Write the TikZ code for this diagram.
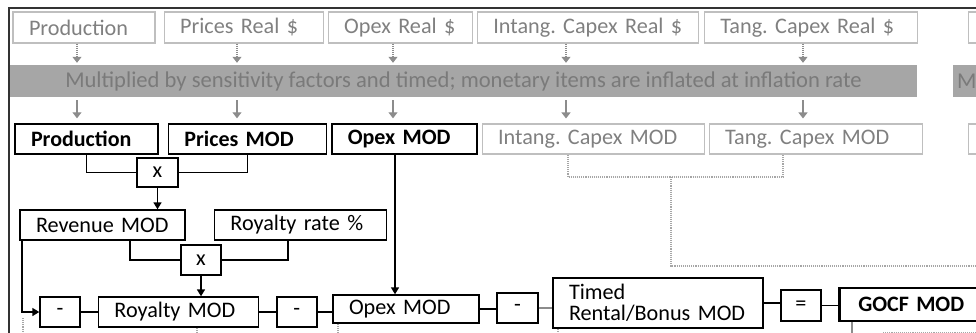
\documentclass[tikz,border=0pt]{standalone}
\usepackage{fontspec}
\setmainfont{Carlito}
\usetikzlibrary{arrows.meta,positioning}
\frenchspacing

\begin{document}
\begin{tikzpicture}
    [x=1pt,y=-1pt,font=\fontsize{22.2}{18}\selectfont,
    real/.style={rectangle,draw=black!25,text=black!50,line width=1.1pt,
    inner xsep=16pt,inner ysep=0pt,minimum height=31pt,text width=#1,align=left},
    module/.style={rectangle,draw=black,line width=1.4pt,font=\fontsize{22}{18}\selectfont\bfseries,
    inner xsep=16pt,inner ysep=0pt,minimum height=30pt,text width=#1,align=left},
    faded/.style={real=#1,minimum height=30pt},
    calc box/.style={rectangle,draw=black,line width=1.4pt,
    inner xsep=16pt,inner ysep=0pt,minimum height=30pt,text width=#1,align=left},
    op/.style={rectangle,draw=black,line width=1.4pt,inner sep=0pt,
    minimum width=40pt,minimum height=30pt},
    band/.style={rectangle,fill=black!35,text=black!52,inner sep=0pt,minimum height=32pt,
    font=\fontsize{22.6}{18}\selectfont},
    link/.style={draw=black,line width=1.6pt},
    arr/.style={link,-{Triangle[length=7pt,width=8pt]}},
    gray arr/.style={draw=black!45,line width=1.1pt,-{Triangle[length=6pt,width=9pt]}},
    gray dots/.style={gray arr,densely dotted},
    dot line/.style={draw=black!35,line width=1.1pt,densely dotted}]
    \path[use as bounding box,clip] (0,0) rectangle (976,332);
    \draw[black!80,line width=1.2pt] (9,340) -- (9,8) -- (990,8);
    % real inputs
    \node[real=110pt] (realprod) at (84,27.5) {Production};
    \node[real=127pt] (realprice) [right=8pt of realprod] {Prices Real \$};
    \node[real=112pt] (realopex) [right=4pt of realprice] {Opex Real \$};
    \node[real=189pt] (realintang) [right=4pt of realopex] {Intang. Capex Real \$};
    \node[real=181pt] (realtang) [right=5pt of realintang] {Tang. Capex Real \$};
    \node[real=168pt] (realnext) [right=50pt of realtang] {};
    % sensitivity band
    \node[band,minimum width=907pt] (band) at (463.5,81) {Multiplied by sensitivity factors and timed; monetary items are inflated at inflation rate};
    \node[band,minimum width=200pt,anchor=west,inner xsep=4pt,text width=192pt,align=left] (bandnext) at (953,81) {M};
    % modelled items
    \node[module=111pt] (modprod) at (86.5,139) {Production};
    \node[module=126pt] (modprice) [right=9pt of modprod] {Prices MOD};
    \node[module=113pt] (modopex) [right=4pt of modprice] {Opex MOD};
    \node[faded=190pt] (modintang) [right=4pt of modopex] {Intang. Capex MOD};
    \node[faded=181pt] (modtang) [right=4pt of modintang] {Tang. Capex MOD};
    \node[faded=168pt] (modnext) [right=45pt of modtang] {};
    \foreach \x/\r/\m in {77/realprod/modprod,237/realprice/modprice,393/realopex/modopex,
        566/realintang/modintang,803/realtang/modtang} {
        \draw[gray dots,shorten >=2pt] (\r.south -| \x,0) -- (band.north -| \x,0);
        \draw[gray arr,shorten <=3pt,shorten >=5pt] (band.south -| \x,0) -- (\m.north -| \x,0);
    }
    % revenue and royalty
    \node[op,minimum width=41pt,minimum height=29pt] (times1) at (157.5,172.5) {x};
    \node[calc box=133pt] (revenue) at (102.5,225) {Revenue MOD};
    \node[calc box=140pt] (royrate) [right=28pt of revenue] {Royalty rate \%};
    \node[op] (times2) at (201,260) {x};
    \draw[link] (modprod.south) |- (times1.west);
    \draw[link] (modprice.south) |- (times1.east);
    \draw[arr] (times1.south) -- (revenue.north -| times1.south);
    \draw[link] (revenue.south -| 130,0) |- (times2.west);
    \draw[link] (royrate.south -| 288,0) |- (times2.east);
    % cash flow line
    \node[op] (minus1) at (60,312) {-};
    \node[calc box=128pt] (roymod) [right=17pt of minus1] {Royalty MOD};
    \node[op] (minus2) [right=17pt of roymod] {-};
    \node[calc box=114pt,minimum height=28pt] (opexmod) at (406,309) {Opex MOD};
    \node[op,minimum width=41pt] (minus3) at (517.5,308) {-};
    \node[calc box=178pt,minimum height=50pt] (timed) at (658,303) {Timed\\[3pt]Rental/Bonus MOD};
    \node[op,minimum height=31pt] (equals) at (801,305.5) {=};
    \node[calc box=153pt,line width=2.6pt,minimum height=33pt,inner xsep=19pt,anchor=west,
        font=\fontsize{22}{18}\selectfont\bfseries] (gocf) at (838,304.5) {GOCF MOD};
    \draw[arr] (times2.south) -- (roymod.north -| times2.south);
    \draw[arr] (modopex.south -| 395,0) -- (opexmod.north -| 395,0);
    \draw[arr] (revenue.south -| 22,0) |- (minus1.west);
    \draw[link] (minus1.east) -- (minus1.east -| roymod.west);
    \draw[link] (roymod.east) -- (roymod.east -| minus2.west);
    \draw[link] (minus2.east) -- (minus2.east -| opexmod.west);
    \draw[link] (opexmod.east) -- (opexmod.east -| minus3.west);
    \draw[link,draw=black!45,line width=1.1pt] (minus3.east) -- (minus3.east -| timed.west);
    \draw[link] (timed.east) -- (timed.east -| equals.west);
    \draw[link] (equals.east) -- (equals.east -| gocf.west);
    % capex path
    \coordinate (capexjoin) at (671,177);
    \coordinate (capexout) at (990,266);
    \coordinate (floor) at (0,345);
    \draw[dot line] (modintang.south -| 568,0) |- (capexjoin) -| (modtang.south -| 783,0);
    \draw[dot line] (capexjoin) |- (capexout);
    % lines to the rows below
    \draw[dot line] ([yshift=-6pt]minus1.west -| 23,0) -- (floor -| 23,0);
    \draw[dot line] (roymod.south -| 197,0) -- (floor -| 197,0);
    \draw[dot line] (opexmod.south -| 338,0) -- (floor -| 338,0);
    \draw[dot line] (timed.south -| 558,0) -- (floor -| 558,0);
    \draw[draw=black!45,line width=2pt] (gocf.south -| 852,0) -- (floor -| 852,0);
    \draw[dot line] ([yshift=-10pt]gocf.south -| 883,0) -- ([yshift=-10pt]gocf.south -| capexout);
\end{tikzpicture}
\end{document}
